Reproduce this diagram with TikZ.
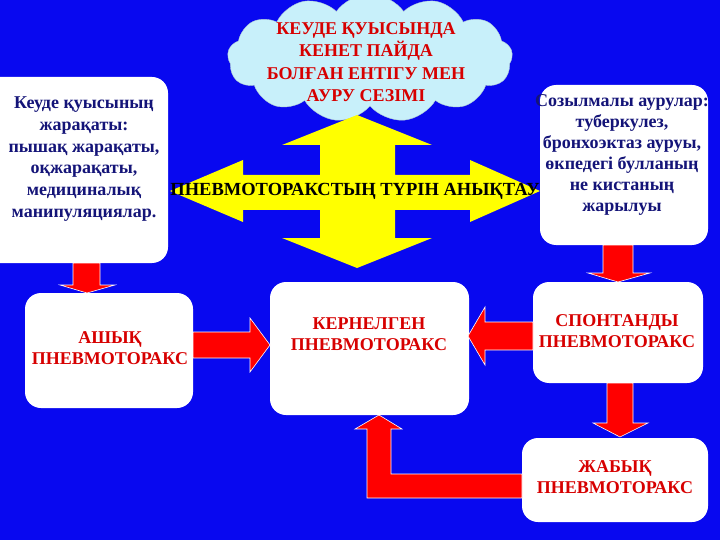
\documentclass[tikz,border=0pt]{standalone}
\usepackage{fontspec}
\setmainfont{Liberation Serif}
\usetikzlibrary{shapes.symbols}
\definecolor{bg}{RGB}{8,8,240}
\definecolor{navy}{RGB}{20,20,120}
\definecolor{rd}{RGB}{215,0,0}
\definecolor{cl}{RGB}{200,240,250}
\definecolor{yl}{RGB}{255,255,0}
\tikzset{
 wbox/.style={fill=white,rounded corners=16pt},
 rarrow/.style={fill=red,draw=white,line width=0.6pt},
 btxt/.style={align=center,font=\bfseries\fontsize{18}{21.8}\selectfont,text=navy},
 rtxt/.style={align=center,font=\bfseries\fontsize{18}{20.5}\selectfont,text=rd},
}
\begin{document}
\begin{tikzpicture}[x=1pt,y=-1pt]
\useasboundingbox (0,0) rectangle (720,540);
\clip (0,0) rectangle (720,540);
\fill[bg] (0,0) rectangle (720,540);
% cloud
\node[cloud,cloud puffs=13,cloud puff arc=110,aspect=2.2,fill=cl,draw=cl!70!gray,minimum width=285pt,minimum height=128pt] (cloud) at (370,58) {};
\node[align=center,text=rd,font=\bfseries\fontsize{18}{22.3}\selectfont] (ct) at (366,62) {КЕУДЕ ҚУЫСЫНДА\\КЕНЕТ ПАЙДА\\БОЛҒАН ЕНТІГУ МЕН\\АУРУ СЕЗІМІ};
% yellow cross arrow
\fill[yl] (357,115)--(432,145)--(395,145)--(395,175)--(470,175)--(470,160)--(540,191)--(470,222)--(470,210)--(395,210)--(395,238)--(432,238)--(357,268)--(282,238)--(320,238)--(320,210)--(243,210)--(243,222)--(170,191)--(243,160)--(243,175)--(320,175)--(320,145)--(282,145)--cycle;
\node[font=\bfseries\fontsize{18.5}{20}\selectfont,text=black] (yt) at (355,191) {ПНЕВМОТОРАКСТЫҢ ТҮРІН АНЫҚТАУ};
% boxes
\fill[wbox] (-20,77) rectangle (168,263);
\node[btxt] (lt) at (84,159) {Кеуде қуысының\\жарақаты:\\пышақ жарақаты,\\оқжарақаты,\\медициналық\\манипуляциялар.};
\fill[wbox] (540,85) rectangle (708,245);
\node[btxt,font=\bfseries\fontsize{18}{21}\selectfont] (rt) at (622,155) {Созылмалы аурулар:\\туберкулез,\\бронхоэктаз ауруы,\\өкпедегі булланың\\не кистаның\\жарылуы};
\fill[wbox] (25,293) rectangle (193,408);
\node[rtxt] (ash) at (110,348) {АШЫҚ\\ПНЕВМОТОРАКС};
\fill[wbox] (270,282) rectangle (469,415);
\node[rtxt] (ker) at (369,334) {КЕРНЕЛГЕН\\ПНЕВМОТОРАКС};
\fill[wbox] (533,282) rectangle (703,383);
\node[rtxt] (spo) at (617,331) {СПОНТАНДЫ\\ПНЕВМОТОРАКС};
\fill[wbox] (522,438) rectangle (708,522);
\node[rtxt] (zha) at (615,477) {ЖАБЫҚ\\ПНЕВМОТОРАКС};
% red arrows
\draw[rarrow] (73,263)--(100,263)--(100,285)--(115,285)--(87,293)--(60,285)--(73,285)--cycle;
\draw[rarrow] (193,332)--(250,332)--(250,318)--(270,345)--(250,372)--(250,358)--(193,358)--cycle;
\draw[rarrow] (533,322)--(485,322)--(485,307)--(468,336)--(485,365)--(485,350)--(533,350)--cycle;
\draw[rarrow] (603,245)--(633,245)--(633,273)--(650,273)--(618,282)--(588,273)--(603,273)--cycle;
\draw[rarrow] (607,383)--(633,383)--(633,423)--(648,423)--(620,437)--(593,423)--(607,423)--cycle;
\draw[rarrow] (522,474)--(391,474)--(391,429)--(402,429)--(379,415)--(355,429)--(367,429)--(367,498)--(522,498)--cycle;
\end{tikzpicture}
\end{document}
